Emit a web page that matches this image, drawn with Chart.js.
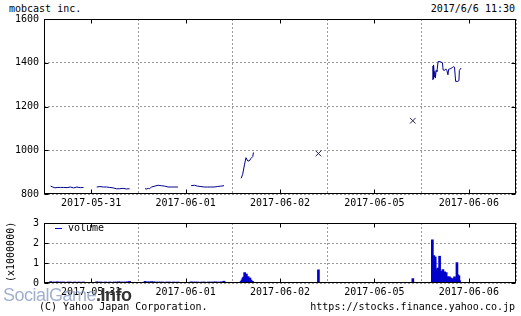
<!DOCTYPE html>
<html lang="ja">
<head>
<meta charset="UTF-8">
<title>mobcast inc.</title>
<script src="https://cdn.jsdelivr.net/npm/chart.js"></script>
<style>
  body { margin: 0; background: #fff; width: 521px; height: 316px; position: relative; overflow: hidden;
         font-family: "DejaVu Sans Mono", monospace; font-size: 10px; color: #000; }
  .t { position: absolute; line-height: 12px; white-space: nowrap; }
  #priceBox { position: absolute; left: 0; top: 0; width: 521px; height: 212px; }
  #volBox { position: absolute; left: 0; top: 212px; width: 521px; height: 104px; }
  #ylab { left: -19px; top: 246px; width: 60px; text-align: center; transform: rotate(-90deg); }
  #mark { position: absolute; left: 3px; top: 285px; font-family: "Liberation Sans", sans-serif; font-size: 18px;
          line-height: 20px; letter-spacing: -0.5px; color: rgba(130, 150, 185, 0.75); white-space: nowrap; }
  #mark b { color: #333; }
</style>
</head>
<body>
<div class="t" style="left:9px; top:3px;">mobcast inc.</div>
<div class="t" style="right:6px; top:3px;">2017/6/6 11:30</div>
<div id="priceBox"><canvas id="price"></canvas></div>
<div id="volBox"><canvas id="volume"></canvas></div>
<div class="t" style="left:55px; top:228px; width:7px; height:1px; background:#0000cc;"></div>
<div class="t" style="left:68px; top:222px;">volume</div>
<div class="t" id="ylab">(x1000000)</div>
<div class="t" style="left:39px; top:301px;">(C) Yahoo Japan Corporation.</div>
<div class="t" style="right:6px; top:301px;">https://stocks.finance.yahoo.co.jp</div>
<div id="mark">SocialGame<b>.Info</b></div>

<script>
  const days = ['2017-05-31', '2017-06-01', '2017-06-02', '2017-06-05', '2017-06-06'];
  const xTicks = [0, 0.5, 1, 1.5, 2, 2.5, 3, 3.5, 4, 4.5, 5];
  const priceTicks = [800, 1000, 1200, 1400, 1600];
  const volTicks = [0, 1, 2, 3];

  // "dayIndex HH:MM"
  const priceTime = [
    '0 09:00', '0 09:10', '0 09:20', '0 09:30', '0 09:45', '0 10:00', '0 10:15', '0 10:30', '0 10:45', '0 11:00', '0 11:15', '0 11:30', '0 12:00',
    '0 12:30', '0 12:45', '0 13:00', '0 13:15', '0 13:30', '0 13:45', '0 14:00', '0 14:15', '0 14:30', '0 14:45', '0 15:00', '0 15:30',
    '1 09:00', '1 09:05', '1 09:15', '1 09:20', '1 09:30', '1 09:45', '1 10:00', '1 10:15', '1 10:30', '1 10:45', '1 11:00', '1 11:15', '1 11:30', '1 12:00',
    '1 12:30', '1 12:45', '1 13:00', '1 13:15', '1 13:30', '1 13:45', '1 14:00', '1 14:15', '1 14:30', '1 14:45', '1 15:00', '1 15:30',
    '2 09:08', '2 09:15', '2 09:23', '2 09:30', '2 09:38', '2 09:45', '2 09:53', '2 10:01', '2 10:04', '2 10:10',
    '4 09:21', '4 09:22', '4 09:23', '4 09:24', '4 09:25', '4 09:26', '4 09:28', '4 09:30', '4 09:33', '4 09:36', '4 09:40',
    '4 09:45', '4 09:55', '4 10:05', '4 10:08', '4 10:15', '4 10:20', '4 10:25', '4 10:30', '4 10:33', '4 10:40', '4 10:50',
    '4 10:55', '4 11:00', '4 11:05', '4 11:15', '4 11:20', '4 11:22', '4 11:27', '4 11:30'
  ];
  const priceValue = [
    836, 832, 828, 830, 830, 830, 829, 832, 828, 832, 829, 830, null,
    832, 834, 832, 832, 830, 828, 824, 824, 826, 823, 824, null,
    826, 822, 826, 824, 832, 836, 840, 838, 836, 832, 832, 832, 832, null,
    838, 840, 836, 834, 832, 832, 832, 832, 834, 836, 838, null,
    872, 890, 933, 966, 951, 951, 963, 971, 990, null,
    1321, 1385, 1325, 1380, 1330, 1390, 1335, 1360, 1330, 1365, 1360,
    1405, 1405, 1400, 1367, 1365, 1372, 1365, 1345, 1370, 1372, 1378,
    1382, 1380, 1315, 1315, 1318, 1365, 1372, 1376
  ];

  const closeTime = ['2 15:00', '3 15:00'];
  const closeValue = [985, 1135];

  const volTime = [
    '0 09:00', '0 09:10', '0 09:20', '0 09:30', '0 09:40', '0 09:50', '0 10:00', '0 10:10', '0 10:20', '0 10:30', '0 10:40', '0 10:50', '0 11:00', '0 11:10', '0 11:20', '0 11:30',
    '0 12:30', '0 12:40', '0 12:50', '0 13:00', '0 13:10', '0 13:20', '0 13:30', '0 13:40', '0 13:50', '0 14:00', '0 14:10', '0 14:20', '0 14:30', '0 14:40', '0 14:50', '0 15:00',
    '1 09:00', '1 09:10', '1 09:20', '1 09:30', '1 09:40', '1 09:50', '1 10:00', '1 10:10', '1 10:20', '1 10:30', '1 10:40', '1 10:50', '1 11:00', '1 11:10', '1 11:20', '1 11:30',
    '1 12:30', '1 12:40', '1 12:50', '1 13:00', '1 13:10', '1 13:20', '1 13:30', '1 13:40', '1 13:50', '1 14:00', '1 14:10', '1 14:20', '1 14:30', '1 14:40', '1 14:50', '1 15:00',
    '2 09:08', '2 09:12', '2 09:16', '2 09:20', '2 09:24', '2 09:28', '2 09:32', '2 09:36', '2 09:40', '2 09:44', '2 09:48', '2 09:52', '2 09:56', '2 10:00', '2 15:00',
    '3 15:00',
    '4 09:19', '4 09:22', '4 09:26', '4 09:29', '4 09:32', '4 09:35', '4 09:37', '4 09:41', '4 09:44', '4 09:48', '4 09:52', '4 09:55',
    '4 09:59', '4 10:03', '4 10:07', '4 10:11', '4 10:15', '4 10:18', '4 10:22', '4 10:26', '4 10:30', '4 10:33', '4 10:37', '4 10:41',
    '4 10:44', '4 10:48', '4 10:52', '4 10:56', '4 11:00', '4 11:04', '4 11:08', '4 11:11', '4 11:15', '4 11:20', '4 11:23'
  ];
  const volValue = [
    0.07, 0.05, 0.05, 0.06, 0.05, 0.05, 0.05, 0.04, 0.05, 0.05, 0.04, 0.05, 0.04, 0.05, 0.04, 0.05,
    0.06, 0.05, 0.05, 0.04, 0.05, 0.04, 0.05, 0.04, 0.05, 0.05, 0.06, 0.05, 0.05, 0.05, 0.06, 0.08,
    0.08, 0.06, 0.06, 0.07, 0.06, 0.05, 0.05, 0.05, 0.05, 0.04, 0.05, 0.05, 0.04, 0.05, 0.04, 0.05,
    0.06, 0.05, 0.05, 0.05, 0.04, 0.05, 0.05, 0.04, 0.05, 0.05, 0.05, 0.06, 0.05, 0.05, 0.06, 0.09,
    0.08, 0.15, 0.25, 0.30, 0.52, 0.38, 0.45, 0.28, 0.32, 0.20, 0.25, 0.15, 0.10, 0.08, 0.66,
    0.22,
    2.16, 0.90, 1.37, 0.80, 1.30, 0.60, 0.67, 0.55, 0.75, 0.50, 1.34, 0.45,
    0.59, 0.40, 0.67, 0.45, 0.56, 0.40, 0.52, 0.30, 0.31, 0.25, 0.31, 0.20,
    0.25, 0.18, 0.20, 0.22, 0.31, 0.15, 0.20, 1.02, 0.41, 0.36, 0.12
  ];

  // each day runs from 8:30 for 430 minutes
  function toX(t) {
    const [d, hm] = t.split(' ');
    const [h, m] = hm.split(':').map(Number);
    return Number(d) + (h * 60 + m - 510) / 430;
  }

  const font = { family: 'DejaVu Sans Mono', size: 10 };

  const frame = {
    id: 'frame',
    afterDraw(chart) {
      const { ctx, chartArea: a, scales } = chart;
      const l = Math.round(a.left) + 0.5, r = Math.round(a.right) - 0.5;
      const t = Math.round(a.top) + 0.5, b = Math.round(a.bottom) - 0.5;
      ctx.save();
      ctx.strokeStyle = '#000';
      ctx.lineWidth = 1;
      ctx.strokeRect(l, t, r - l, b - t);
      ctx.beginPath();
      scales.x.ticks.forEach(tk => {
        if (tk.value % 1 !== 0.5) return;
        const px = Math.round(scales.x.getPixelForValue(tk.value)) + 0.5;
        ctx.moveTo(px, t); ctx.lineTo(px, t + 4);
        ctx.moveTo(px, b); ctx.lineTo(px, b - 4);
      });
      scales.y.ticks.forEach(tk => {
        const py = Math.round(scales.y.getPixelForValue(tk.value)) + 0.5;
        ctx.moveTo(l, py); ctx.lineTo(l + 4, py);
        ctx.moveTo(r, py); ctx.lineTo(r - 4, py);
      });
      ctx.stroke();
      ctx.restore();
    }
  };

  function xScale(h) {
    return {
      type: 'linear', min: 0, max: 5, offset: false,
      afterBuildTicks: s => { s.ticks = xTicks.map(v => ({ value: v })); },
      afterFit: s => { s.height = h; },
      grid: { offset: false, color: c => (c.tick && c.tick.value % 1 === 0) ? '#999' : 'rgba(0,0,0,0)', drawTicks: false },
      border: { display: false, dash: [2, 2] },
      ticks: {
        autoSkip: false, maxRotation: 0, padding: 3, color: '#000', font: font,
        callback: v => (v % 1 === 0.5) ? days[Math.floor(v)] : ''
      }
    };
  }

  function yScale(min, max, list) {
    return {
      min: min, max: max,
      afterBuildTicks: s => { s.ticks = list.map(v => ({ value: v })); },
      afterFit: s => { s.width = 44; },
      grid: { color: '#999', drawTicks: false },
      border: { display: false, dash: [2, 2] },
      ticks: { padding: 5, color: '#000', font: font, callback: v => String(v) }
    };
  }

  new Chart(document.getElementById('price'), {
    type: 'line',
    data: {
      datasets: [
        {
          data: priceTime.map((t, i) => ({ x: toX(t), y: priceValue[i] })),
          borderColor: '#000090', borderWidth: 1, pointRadius: 0, spanGaps: false, tension: 0
        },
        {
          data: closeTime.map((t, i) => ({ x: toX(t), y: closeValue[i] })),
          showLine: false, pointStyle: 'crossRot', pointRadius: 4,
          borderColor: '#222255', borderWidth: 1
        }
      ]
    },
    options: {
      responsive: true, maintainAspectRatio: false, animation: false,
      layout: { padding: { top: 19, right: 5, left: 0, bottom: 0 } },
      plugins: { legend: { display: false }, tooltip: { enabled: false } },
      scales: { x: xScale(18), y: yScale(800, 1600, priceTicks) }
    },
    plugins: [frame]
  });

  new Chart(document.getElementById('volume'), {
    type: 'bar',
    data: {
      datasets: [{
        data: volTime.map((t, i) => ({ x: toX(t), y: volValue[i] })),
        backgroundColor: '#0000cc', barThickness: 2
      }]
    },
    options: {
      responsive: true, maintainAspectRatio: false, animation: false,
      layout: { padding: { top: 7, right: 5, left: 0, bottom: 0 } },
      plugins: { legend: { display: false }, tooltip: { enabled: false } },
      scales: { x: xScale(33), y: yScale(0, 3, volTicks) }
    },
    plugins: [frame]
  });
</script>
</body>
</html>
